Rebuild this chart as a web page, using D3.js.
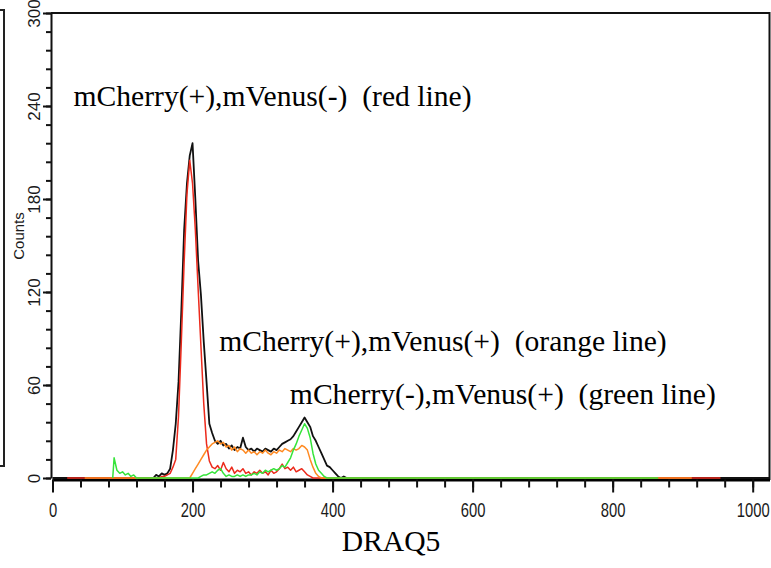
<!doctype html>
<html>
<head>
<meta charset="utf-8">
<style>
    body { margin: 0; background: #fff; }
    text { font-family: "Liberation Sans", Arial, sans-serif; fill: #1a1a1a; }
    .note { font-family: "Liberation Serif", "Times New Roman", serif; font-size: 29.6px; fill: #000; white-space: pre; }
</style>
<script src="https://d3js.org/d3.v7.min.js"></script>
</head>
<body>
<svg width="771" height="568"></svg>
<script>

    // histogram bins: first channel and bin width (DRAQ5 channels)
    var binStart = 84, binWidth = 4;

    // counts per bin, channels 84 .. 420
    var totalCounts = [
        0, 0, 0, 0, 0, 0, 0, 0, 0, 0,
        0, 0, 0, 0, 0, 0, 2, 1, 3, 2,
        3, 6, 18, 35, 62, 108, 160, 190, 208, 216,
        180, 140, 118, 88, 62, 35, 29, 24, 22, 24,
        21, 22, 19, 21, 18, 20, 19, 26, 20, 18,
        19, 17, 19, 18, 17, 19, 18, 17, 19, 18,
        20, 22, 23, 24, 25, 27, 30, 33, 36, 39,
        36, 33, 27, 24, 20, 16, 12, 8, 7, 5,
        3, 1, 0, 1, 0
    ];
    var redCounts = [
        0, 0, 0, 0, 0, 0, 0, 0, 0, 0,
        0, 0, 0, 0, 0, 0, 0, 0, 1, 1,
        2, 3, 7, 12, 40, 88, 139, 183, 205, 190,
        160, 122, 85, 48, 22, 11, 7, 6, 8, 5,
        10, 6, 4, 7, 3, 5, 4, 6, 3, 4,
        2, 4, 3, 5, 3, 4, 2, 5, 3, 4,
        6, 9, 6, 7, 5, 7, 4, 5, 6, 4,
        2, 1, 0, 0, 0, 0, 0, 0, 0, 0,
        0, 0, 0, 0, 0
    ];
    var orangeCounts = [
        0, 0, 0, 0, 0, 0, 0, 0, 0, 0,
        0, 0, 0, 0, 0, 0, 0, 0, 0, 0,
        0, 0, 0, 0, 0, 0, 0, 0, 0, 3,
        6, 9, 12, 15, 18, 20, 22, 23, 24, 22,
        23, 20, 21, 18, 20, 17, 19, 18, 16, 18,
        16, 17, 15, 17, 16, 18, 16, 15, 17, 16,
        18, 17, 19, 18, 17, 19, 18, 19, 21, 20,
        18, 12, 7, 3, 1, 0, 0, 0, 0, 0,
        0, 0, 0, 0, 0
    ];
    var greenCounts = [
        0, 13, 5, 3, 4, 2, 3, 1, 2, 0,
        0, 0, 0, 0, 0, 0, 0, 0, 0, 0,
        0, 0, 0, 0, 0, 0, 0, 0, 0, 0,
        0, 0, 1, 2, 2, 3, 4, 3, 5, 6,
        3, 1, 2, 1, 1, 2, 1, 2, 1, 2,
        2, 3, 2, 4, 3, 5, 4, 5, 6, 5,
        6, 8, 7, 10, 13, 18, 22, 27, 31, 35,
        32, 26, 16, 9, 5, 3, 1, 0, 0, 0,
        0, 0, 0, 0, 0
    ];

    // channel span of each trace's flat zero line
    var totalSpan = [0, 1024], redSpan = [21, 954], orangeSpan = [46, 913], greenSpan = [86, 865];

    var xTicks = [0, 200, 400, 600, 800, 1000];
    var yTicks = [0, 60, 120, 180, 240, 300];

    var notes = [
        { text: "mCherry(+),mVenus(-)  (red line)", ch: 30, count: 240 },
        { text: "mCherry(+),mVenus(+)  (orange line)", ch: 238, count: 82 },
        { text: "mCherry(-),mVenus(+)  (green line)", ch: 339, count: 48 }
    ];

    var svg = d3.select("svg");

    var x = d3.scaleLinear().domain([0, 1024]).range([52.5, 769.5]);
    var y = d3.scaleLinear().domain([0, 300]).range([478, 13]);

    // left edge of a neighbouring panel
    svg.append("path")
       .attr("d", "M0,10H4V466H0")
       .attr("fill", "none")
       .attr("stroke", "#222")
       .attr("stroke-width", 2);

    // frame top and right
    svg.append("path")
       .attr("d", "M51," + y(300) + "H769.5V" + (y(0) + 2))
       .attr("fill", "none")
       .attr("stroke", "#111")
       .attr("stroke-width", 2);

    // x axis: minor then major ticks
    var xMinor = svg.append("g")
       .attr("transform", "translate(0," + (y(0) + 1.5) + ")")
       .call(d3.axisBottom(x).tickValues(d3.range(0, 1024, 40)).tickSize(8).tickSizeOuter(0).tickFormat(""));
    xMinor.select(".domain").attr("stroke-width", 3).attr("stroke", "#000");

    var xAxis = svg.append("g")
       .attr("transform", "translate(0," + (y(0) + 1.5) + ")")
       .call(d3.axisBottom(x).tickValues(xTicks).tickSize(13).tickSizeOuter(0).tickFormat(d3.format("d")));
    xAxis.select(".domain").remove();
    xAxis.selectAll("text")
         .attr("y", 0).attr("dy", 0)
         .attr("transform", "translate(0,37) scale(0.74,1)")
         .style("font-size", "20px");

    svg.selectAll("g.tick line").attr("stroke-width", 2).attr("stroke", "#111");

    // y axis
    var yMinor = svg.append("g")
       .attr("transform", "translate(51,0)")
       .call(d3.axisLeft(y).tickValues(d3.range(0, 301, 12)).tickSize(5).tickSizeOuter(0).tickFormat(""));
    yMinor.select(".domain").attr("stroke-width", 2).attr("stroke", "#111");

    var yAxis = svg.append("g")
       .attr("transform", "translate(51,0)")
       .call(d3.axisLeft(y).tickValues(yTicks).tickSize(8).tickSizeOuter(0));
    yAxis.select(".domain").remove();
    yAxis.selectAll("text")
         .attr("x", null).attr("dy", 0)
         .attr("text-anchor", "middle")
         .attr("transform", "translate(-11,0) rotate(-90)")
         .style("font-size", "17px");

    svg.selectAll("g.tick line").attr("stroke-width", 2).attr("stroke", "#111");

    svg.append("text")
       .attr("transform", "translate(24,236) rotate(-90)")
       .attr("text-anchor", "middle")
       .style("font-size", "15px")
       .text("Counts");

    // traces
    var line = d3.line()
        .x(function(d) { return x(d[0]); })
        .y(function(d) { return y(d[1]); });

    function tracePoints(counts, span) {
        var pts = [[span[0], 0]];
        counts.forEach(function(c, i) {
            var ch = binStart + i * binWidth;
            if (ch > span[0]) pts.push([ch, c]);
        });
        pts.push([span[1], 0]);
        return pts;
    }

    var traces = [
        { counts: totalCounts, span: totalSpan, color: "#111111", width: 1.8 },
        { counts: redCounts, span: redSpan, color: "#ec2a1c", width: 1.5 },
        { counts: orangeCounts, span: orangeSpan, color: "#ff8a22", width: 1.5 },
        { counts: greenCounts, span: greenSpan, color: "#35e43a", width: 1.5 }
    ];

    svg.selectAll(".trace")
       .data(traces)
       .enter().append("path")
       .attr("class", "trace")
       .attr("fill", "none")
       .attr("stroke", function(d) { return d.color; })
       .attr("stroke-width", function(d) { return d.width; })
       .attr("stroke-linejoin", "round")
       .attr("d", function(d) { return line(tracePoints(d.counts, d.span)); });

    // annotations
    svg.selectAll(".note")
       .data(notes)
       .enter().append("text")
       .attr("class", "note")
       .attr("x", function(d) { return x(d.ch); })
       .attr("y", function(d) { return y(d.count); })
       .text(function(d) { return d.text; });

    svg.append("text")
       .attr("class", "note")
       .attr("x", 391)
       .attr("y", 551)
       .attr("text-anchor", "middle")
       .text("DRAQ5");

</script>
</body>
</html>
